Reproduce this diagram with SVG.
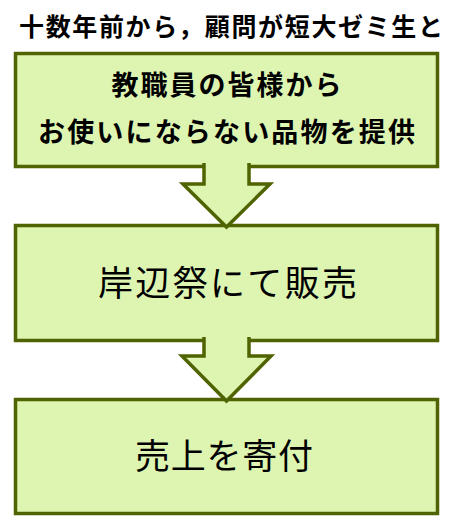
<svg xmlns="http://www.w3.org/2000/svg" width="469" height="516" viewBox="0 0 469 516">
<style>
.box{fill:#ddf5b1;stroke:#4f6300;stroke-width:3.5}
.arr{fill:#ddf5b1;stroke:#4f6300;stroke-width:3.5;stroke-linejoin:miter}
text{font-family:"Noto Sans CJK JP","Noto Sans CJK SC",sans-serif;fill:#000}
.b{font-weight:bold}
</style>
<rect width="469" height="516" fill="#fff"/>
<text id="title" class="b" x="19" y="36" font-size="25" textLength="424" lengthAdjust="spacing">十数年前から，顧問が短大ゼミ生と</text>
<g id="node1">
<rect class="box" x="15.5" y="53.5" width="422" height="113"/>
<text class="b" x="226.5" y="95" font-size="27" text-anchor="middle" textLength="230" lengthAdjust="spacing">教職員の皆様から</text>
<text class="b" x="226.5" y="142" font-size="27" text-anchor="middle" textLength="377" lengthAdjust="spacing">お使いにならない品物を提供</text>
</g>
<g id="node2">
<rect class="box" x="15.5" y="225.5" width="422" height="115"/>
<text x="227.5" y="296" font-size="35" text-anchor="middle" textLength="259" lengthAdjust="spacing">岸辺祭にて販売</text>
</g>
<g id="node3">
<rect class="box" x="15.5" y="399.5" width="422" height="114"/>
<text x="224" y="469" font-size="35" text-anchor="middle" textLength="178" lengthAdjust="spacing">売上を寄付</text>
</g>
<g id="connectors">
<path class="arr" d="M204,163 L204,184 L183,184 L226.5,227 L270,184 L249,184 L249,163"/>
<path class="arr" d="M204,337 L204,356 L182,356 L226.5,401 L271,356 L249,356 L249,337"/>
</g>
</svg>
